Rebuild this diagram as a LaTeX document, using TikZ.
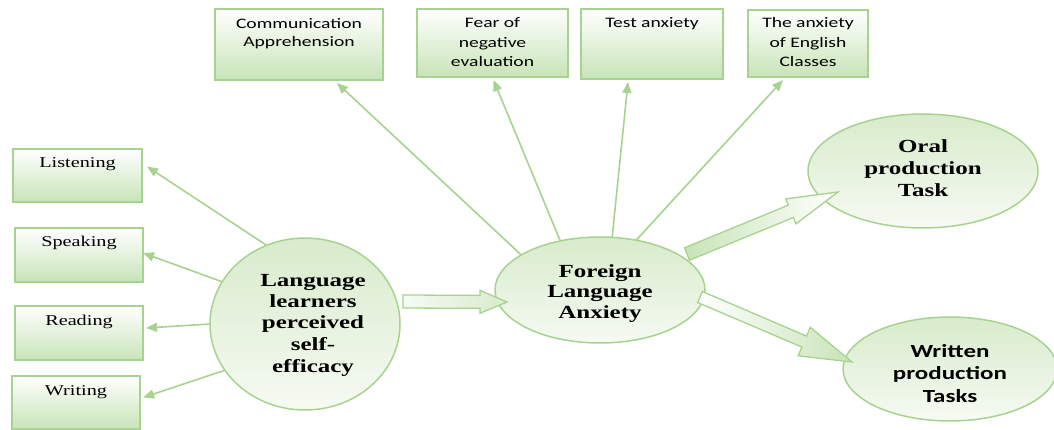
\documentclass[tikz,border=0pt]{standalone}
\usepackage{fontspec}
\setmainfont{Liberation Serif}
\newfontfamily\calfont{Carlito}
\usepackage{graphicx}
\usetikzlibrary{shapes.geometric,arrows.meta,calc}
\definecolor{gline}{RGB}{168,210,143}
\definecolor{boxg}{RGB}{200,228,184}
\definecolor{ellg}{RGB}{216,235,203}
\definecolor{ellw}{RGB}{246,250,243}
\newcommand\sx[2][t]{\scalebox{1.35}[1]{\begin{tabular}[#1]{@{}c@{}}#2\end{tabular}}}
\newcommand\blockarrow[6]{%
  \coordinate (ba-h) at ($(#2)!#5!(#1)$);
  \path[#6] ($(#1)!#3!90:(#2)$) -- ($(ba-h)!#3!90:(#2)$) -- ($(ba-h)!#4!90:(#2)$) -- (#2)
     -- ($(ba-h)!#4!-90:(#2)$) -- ($(ba-h)!#3!-90:(#2)$) -- ($(#1)!#3!-90:(#2)$) -- cycle;
}
\tikzset{
  box/.style={draw=gline, line width=1.5pt, top color=white, bottom color=boxg,
    inner sep=0pt, outer sep=0pt, anchor=north west},
  serifbox/.style={box, font=\fontsize{15}{18}\selectfont},
  sansbox/.style={box, font=\calfont\fontsize{14.5}{19.5}\selectfont},
  ell/.style={ellipse, draw=gline, line width=1.5pt, top color=ellg, bottom color=ellw,
    inner sep=0pt, outer sep=0pt, text height=10pt},
  serifell/.style={ell, font=\bfseries\fontsize{18.5}{21.5}\selectfont},
  conn/.style={draw=gline, line width=1.6pt, -{Triangle[length=11pt,width=9pt]}},
  barrow/.style={draw=gline, line width=1.3pt}
}
\begin{document}
\begin{tikzpicture}[x=1pt,y=-1pt]
\useasboundingbox (0,0) rectangle (1054,430);
% left boxes
\node[serifbox, minimum width=129pt, text height=19pt, text depth=34pt] (list) at (13,149) {\sx{Listening}};
\node[serifbox, minimum width=128pt, text height=19pt, text depth=35pt] (spk) at (15,228) {\sx{Speaking}};
\node[serifbox, minimum width=128pt, text height=19pt, text depth=35pt] (read) at (15,306) {\sx{Reading}};
\node[serifbox, minimum width=128pt, text height=19pt, text depth=34pt] (wri) at (12,376) {\sx{Writing}};
% top boxes
\node[sansbox, font=\calfont\fontsize{14.5}{18}\selectfont, minimum width=168pt, text height=20pt, text depth=51pt] (comm) at (215,9) {\sx{Communication\\Apprehension}};
\node[sansbox, minimum width=151pt, text height=19pt, text depth=49pt] (fear) at (417,9) {\sx{Fear of\\negative\\evaluation}};
\node[sansbox, minimum width=142pt, text height=19pt, text depth=51pt] (test) at (581,9) {\sx{Test anxiety}};
\node[sansbox, minimum width=120pt, text height=18pt, text depth=49pt] (eng) at (748,10) {\sx{The anxiety\\of English\\Classes}};
% ellipses
\node[serifell, minimum width=190pt, minimum height=172pt, text depth=86pt] (se) at (305,324) {\hspace*{16pt}\sx{Language\\learners\\perceived\\self-\\efficacy}};
\node[serifell, font=\bfseries\fontsize{18.5}{20.5}\selectfont, minimum width=210pt, minimum height=106pt, text depth=36pt] (fla) at (600,290) {\sx{Foreign\\Language\\Anxiety}};
\node[serifell, font=\bfseries\fontsize{18.5}{22}\selectfont, minimum width=230pt, minimum height=114pt, text depth=46pt] (oral) at (923,171) {\sx{Oral\\production\\Task}};
\node[ell, font=\calfont\bfseries\fontsize{18.5}{22.5}\selectfont, minimum width=214pt, minimum height=104pt, text depth=34pt] (writ) at (950,369) {\sx{Written\\production\\Tasks}};
% thin connectors
\draw[conn] (se.116) -- ($(list.east)+(5,-9)$);
\draw[conn] (se.153) -- ($(spk.east)+(0,-2)$);
\draw[conn] (se.180) -- ($(read.east)+(3,-5)$);
\draw[conn] (se.210) -- ($(wri.east)+(3,-5)$);
\draw[conn] (fla.156) -- ($(comm.south)+(38,3)$);
\draw[conn] (fla.129) -- ($(fear.south)+(1,3)$);
\draw[conn] (fla.77) -- ($(test.south)+(-24,3)$);
\draw[conn] (fla.54) -- ($(eng.south)+(-25,3)$);
% block arrows
\coordinate (a1) at ($(se.east)+(3,-22.5)$);
\coordinate (b1) at ($(fla.west)+(12,12)$);
\blockarrow{a1}{b1}{6.5pt}{11.5pt}{27pt}{barrow, left color=ellw, right color=ellg}
\coordinate (a2) at ($(fla.east)+(-18,-36)$);
\coordinate (b2) at ($(oral.west)+(30,21)$);
\blockarrow{a2}{b2}{6.7pt}{13.5pt}{51pt}{barrow, left color=boxg, right color=white}
\coordinate (a3) at ($(fla.east)+(-5,7)$);
\coordinate (b3) at ($(writ.west)+(9,-7)$);
\blockarrow{a3}{b3}{6pt}{15.5pt}{52pt}{barrow, left color=white, right color=boxg}
\end{tikzpicture}
\end{document}
